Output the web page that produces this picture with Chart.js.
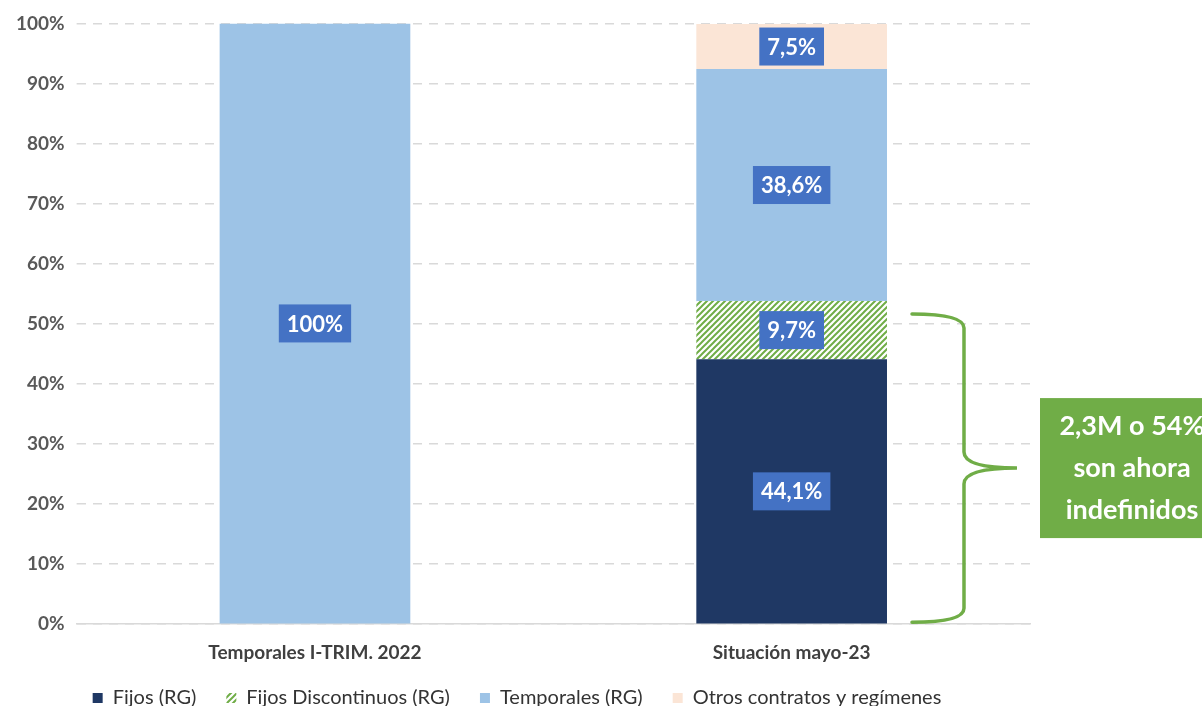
<!DOCTYPE html>
<html>
<head>
<meta charset="utf-8">
<script src="https://cdn.jsdelivr.net/npm/chart.js@4/dist/chart.umd.min.js"></script>
<style>
  html, body { margin: 0; padding: 0; background: #fff; }
  #wrap { width: 1202px; height: 708px; position: relative; }
</style>
</head>
<body>
<div id="wrap"><canvas id="grafico"></canvas></div>
<script>
// datos
var categorias = ["Temporales I-TRIM. 2022", "Situación mayo-23"];
var fijos = [0, 44.1];
var fijosDiscontinuos = [0, 9.7];
var temporales = [100, 38.6];
var otros = [0, 7.5];
var ticksY = [0, 10, 20, 30, 40, 50, 60, 70, 80, 90, 100];
var textoCaja = ["2,3M o 54%", "son ahora", "indefinidos"];

var FUENTE = "Lato, 'Open Sans', sans-serif";
var VERDE = "#70AD47";

// trama rayada para fijos discontinuos
function crearTrama() {
  var c = document.createElement("canvas");
  c.width = 6; c.height = 6;
  var g = c.getContext("2d");
  g.fillStyle = "#ffffff";
  g.fillRect(0, 0, 6, 6);
  g.strokeStyle = VERDE;
  g.lineWidth = 2;
  g.beginPath();
  g.moveTo(-1, 7); g.lineTo(7, -1);
  g.moveTo(-1, 1); g.lineTo(1, -1);
  g.moveTo(5, 7); g.lineTo(7, 5);
  g.stroke();
  return document.createElement("canvas").getContext("2d").createPattern(c, "repeat");
}
var trama = crearTrama();

function fmt(v) {
  return (Number.isInteger(v) ? String(v) : v.toFixed(1).replace(".", ",")) + "%";
}

// etiquetas en cajas azules
var etiquetas = {
  id: "etiquetas",
  afterDatasetsDraw: function (chart) {
    var ctx = chart.ctx;
    ctx.save();
    ctx.font = "bold 22px " + FUENTE;
    ctx.textAlign = "center";
    ctx.textBaseline = "middle";
    chart.data.datasets.forEach(function (ds, i) {
      var meta = chart.getDatasetMeta(i);
      meta.data.forEach(function (bar, j) {
        var v = ds.data[j];
        if (!v) return;
        var txt = fmt(v);
        var yc = (bar.y + bar.base) / 2;
        var w = ctx.measureText(txt).width + 16;
        var h = 38;
        ctx.fillStyle = "#4472C4";
        ctx.fillRect(bar.x - w / 2, yc - h / 2, w, h);
        ctx.fillStyle = "#ffffff";
        ctx.fillText(txt, bar.x, yc + 1);
      });
    });
    ctx.restore();
  }
};

// llave y caja verde
var llave = {
  id: "llave",
  afterDraw: function (chart) {
    var ctx = chart.ctx;
    var y = chart.scales.y;
    var area = chart.chartArea;
    var bar = chart.getDatasetMeta(0).data[1];
    var x0 = bar.x + bar.width / 2 + 25;
    var xm = x0 + 52;
    var xp = xm + 53;
    var yTop = y.getPixelForValue(fijos[1] + fijosDiscontinuos[1]) + 13;
    var yBot = y.getPixelForValue(0) - 2;
    var yMid = (yTop + yBot) / 2;
    ctx.save();
    ctx.strokeStyle = VERDE;
    ctx.lineWidth = 3.5;
    ctx.lineCap = "round";
    ctx.beginPath();
    ctx.moveTo(x0, yTop);
    ctx.quadraticCurveTo(xm, yTop, xm, yTop + 14);
    ctx.lineTo(xm, yMid - 16);
    ctx.quadraticCurveTo(xm, yMid, xp, yMid);
    ctx.quadraticCurveTo(xm, yMid, xm, yMid + 16);
    ctx.lineTo(xm, yBot - 14);
    ctx.quadraticCurveTo(xm, yBot, x0, yBot);
    ctx.stroke();

    var bx = area.right + 10;
    var by = yMid - 70;
    ctx.fillStyle = VERDE;
    ctx.fillRect(bx, by, 200, 140);
    ctx.fillStyle = "#ffffff";
    ctx.font = "bold 27px " + FUENTE;
    ctx.textAlign = "center";
    ctx.textBaseline = "middle";
    textoCaja.forEach(function (t, i) {
      ctx.fillText(t, bx + 92, by + 28 + i * 42);
    });
    ctx.restore();
  }
};

// leyenda más compacta en vertical
var RECORTE = 27;
var leyendaCompacta = {
  id: "leyendaCompacta",
  beforeLayout: function (chart) {
    var lg = chart.legend;
    if (lg && !lg._ajustada) {
      var fitOriginal = lg.fit.bind(lg);
      lg.fit = function () {
        fitOriginal();
        this.height -= RECORTE;
      };
      var drawOriginal = lg.draw.bind(lg);
      lg.draw = function () {
        var t = this.top;
        this.top = t - 15;
        drawOriginal();
        this.top = t;
      };
      lg._ajustada = true;
    }
  }
};

new Chart(document.getElementById("grafico"), {
  type: "bar",
  data: {
    labels: categorias,
    datasets: [
      { label: "Fijos (RG)", data: fijos, backgroundColor: "#1F3864" },
      { label: "Fijos Discontinuos (RG)", data: fijosDiscontinuos, backgroundColor: trama },
      { label: "Temporales (RG)", data: temporales, backgroundColor: "#9DC3E6" },
      { label: "Otros contratos y regímenes", data: otros, backgroundColor: "#FBE5D6" }
    ]
  },
  options: {
    responsive: true,
    maintainAspectRatio: false,
    animation: false,
    events: [],
    layout: { padding: { top: 7, right: 172, left: 4, bottom: 2 } },
    datasets: { bar: { barPercentage: 0.4, categoryPercentage: 1.0 } },
    scales: {
      x: {
        stacked: true,
        grid: { display: false },
        border: { color: "#d9d9d9", width: 1.5 },
        ticks: { color: "#404040", font: { family: FUENTE, size: 19, weight: "bold" }, padding: 9 }
      },
      y: {
        stacked: true,
        min: 0,
        max: 100,
        afterBuildTicks: function (ax) { ax.ticks = ticksY.map(function (v) { return { value: v }; }); },
        grid: { color: "#d9d9d9", lineWidth: 1.5, tickLength: 0 },
        border: { display: false, dash: [9, 7] },
        ticks: {
          color: "#595959",
          padding: 12,
          font: { family: FUENTE, size: 19, weight: "bold" },
          callback: function (v) { return v + "%"; }
        }
      }
    },
    plugins: {
      tooltip: { enabled: false },
      legend: {
        position: "bottom",
        labels: {
          color: "#333333",
          boxWidth: 10,
          boxHeight: 10,
          padding: 30,
          font: { family: FUENTE, size: 20 }
        }
      }
    }
  },
  plugins: [etiquetas, llave, leyendaCompacta]
});
</script>
</body>
</html>
